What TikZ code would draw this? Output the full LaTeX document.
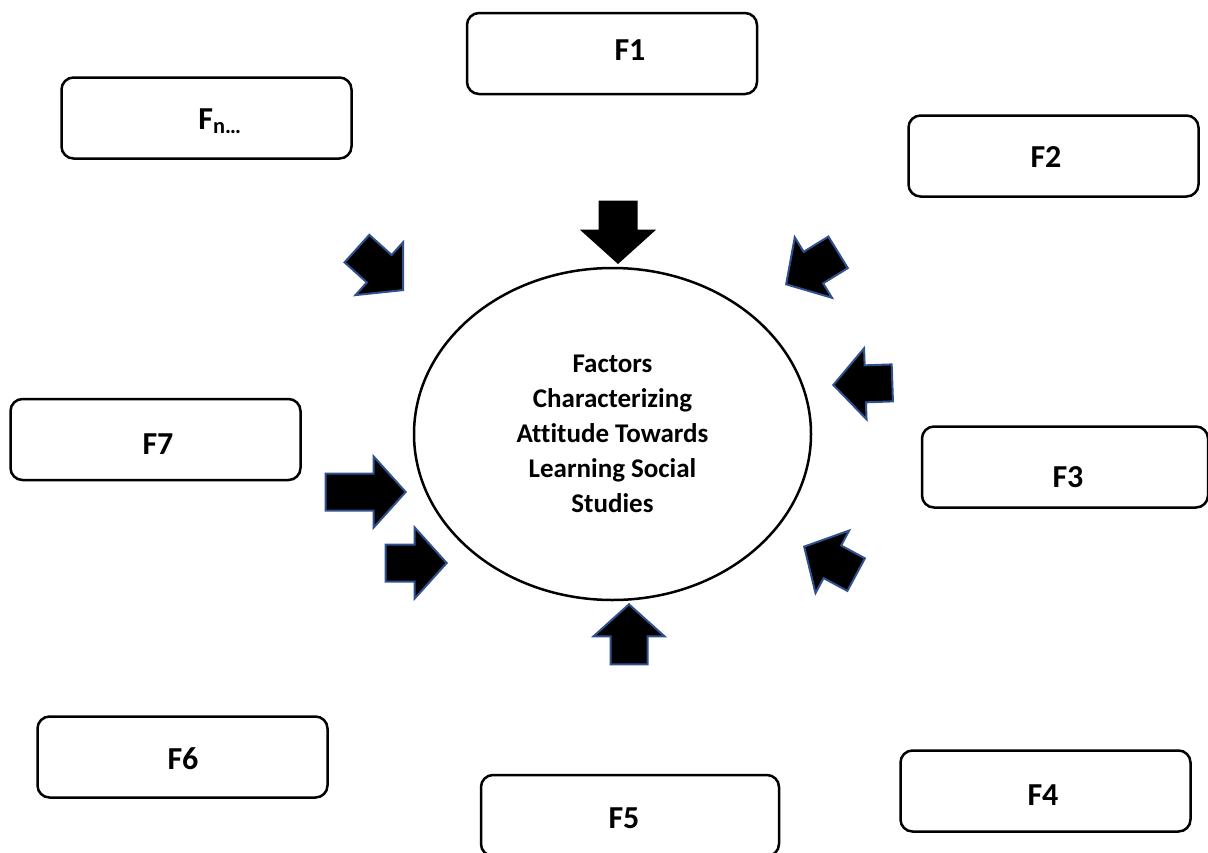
\documentclass[tikz,border=0pt]{standalone}
\usepackage{fontspec}
\setmainfont{Carlito}[Ligatures=NoCommon]
\usetikzlibrary{shapes.geometric, shapes.arrows, positioning}
\definecolor{arrowblue}{RGB}{47,82,143}

\begin{document}
\begin{tikzpicture}[
    x=1pt, y=-1pt,
    % Styles
    fbox/.style={rectangle, draw, rounded corners=12pt, line width=2.5pt, minimum width=290pt, minimum height=81pt},
    ftext/.style={font=\fontsize{32}{38}\selectfont\bfseries},
    core/.style={ellipse, draw, line width=2.5pt, inner sep=0pt, minimum width=397pt, minimum height=332pt, align=center, font=\fontsize{27}{35}\selectfont\bfseries},
    blockarrow/.style={single arrow, anchor=tip, draw=arrowblue, fill=black, line width=2pt, inner xsep=0pt, inner ysep=17.5pt, single arrow head extend=17pt, single arrow tip angle=96, single arrow head indent=0pt},
]
\clip (0,0) rectangle (1208,852);

% === CENTRE ===
\node[core] (core) at (612.5,434) {Factors\\Characterizing\\Attitude Towards\\Learning Social\\Studies};

% === FACTOR BOXES ===
\node[fbox] (box1) at (612,53.5) {};
\node[ftext] (f1) at (630,50) {F1};
\node[fbox] (boxn) at (206.5,118) {};
\node[ftext] (fn) at (220,121) {F\textsubscript{n…}};
\node[fbox] (box2) at (1053.5,156) {};
\node[ftext] (f2) at (1046,157) {F2};
\node[fbox] (box7) at (155.5,439.5) {};
\node[ftext] (f7) at (158,444) {F7};
\node[fbox, minimum width=286pt] (box3) at (1065,467) {};
\node[ftext] (f3) at (1068,477) {F3};
\node[fbox] (box6) at (182.5,757) {};
\node[ftext] (f6) at (183,759) {F6};
\node[fbox, minimum width=298pt] (box5) at (630,815.5) {};
\node[ftext] (f5) at (624,818) {F5};
\node[fbox] (box4) at (1045.5,791) {};
\node[ftext] (f4) at (1043,795) {F4};

% === ARROWS INTO THE CENTRE ===
\node[blockarrow, draw=black, minimum height=61pt, rotate=270] (arr1) at (618,264) {};
\node[blockarrow, minimum height=62pt, rotate=318] (arrn) at (404,291) {};
\node[blockarrow, minimum height=61pt, rotate=211.6] (arr2) at (785,285) {};
\node[blockarrow, minimum height=59pt, rotate=182] (arr3) at (832,385) {};
\node[blockarrow, minimum height=59pt, rotate=151.7] (arr4) at (803,546) {};
\node[blockarrow, minimum height=60pt, rotate=90] (arr5) at (629,603) {};
\node[blockarrow, minimum height=80pt] (arr7) at (407,492) {};
\node[blockarrow, minimum height=61pt] (arr6) at (448,563) {};

\end{tikzpicture}
\end{document}
